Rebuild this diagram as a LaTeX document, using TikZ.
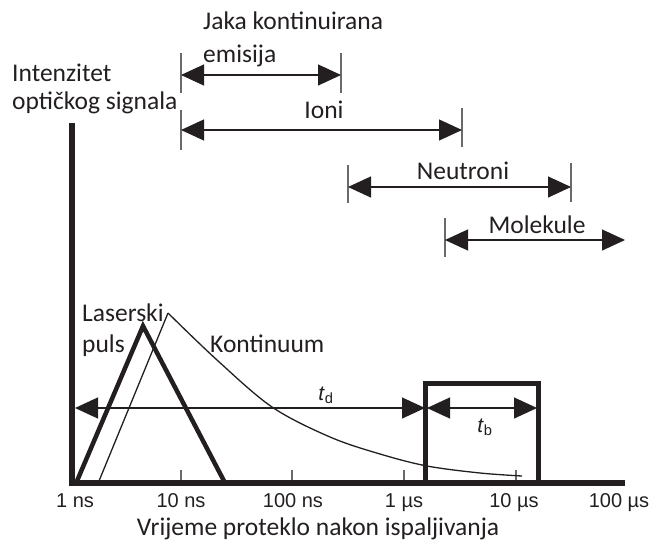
\documentclass[tikz,border=0pt]{standalone}
\usepackage{fontspec}
\setmainfont{Carlito}
\newfontfamily\arialf{Liberation Sans}
\usetikzlibrary{arrows.meta}
\definecolor{ink}{HTML}{231F20}
\definecolor{tickgray}{HTML}{6A6A6A}
\begin{document}
\begin{tikzpicture}[x=1pt,y=-1pt,
  lbl/.style={font=\fontsize{25.5}{30}\selectfont, inner sep=0pt, text=ink},
  tlbl/.style={font=\arialf\fontsize{20}{24}\selectfont, inner sep=0pt, anchor=base, text=ink},
  tvar/.style={font=\arialf\fontsize{21}{24}\selectfont, inner sep=0pt, anchor=base, text=ink},
  tip/.tip={Triangle[length=23pt,width=21pt]},
  rng/.style={draw=ink, line width=1.2pt, tip-tip},
  endtick/.style={draw=tickgray, line width=1.2pt},
  axis/.style={draw=ink, line width=6.5pt, line join=miter},
  thin/.style={draw=ink, line width=1.3pt},
]
\useasboundingbox (0,0) rectangle (655,540);

% axes
\coordinate (ytop) at (72,123);
\coordinate (orig) at (72,483);
\coordinate (xend) at (625,483);
\draw[axis] (ytop) -- (orig) -- (xend);

% x ticks
\foreach \x in {181,292,404,516} \draw[draw=tickgray, line width=1.2pt] (\x,470) -- (\x,480);

% tick labels
\node[tlbl] (t1) at (75,507) {1 ns};
\node[tlbl] (t2) at (181,507) {10 ns};
\node[tlbl] (t3) at (293,507) {100 ns};
\node[tlbl] (t4) at (404,507) {1 µs};
\node[tlbl] (t5) at (514,507) {10 µs};
\node[tlbl] (t6) at (619,507) {100 µs};
\node[lbl, anchor=base] (xt) at (318,535) {Vrijeme proteklo nakon ispaljivanja};

% y label
\node[lbl, anchor=base west] (int1) at (12,82) {Intenzitet};
\node[lbl, anchor=base west] (int2) at (12,110) {optičkog signala};

% laser pulse
\draw[draw=ink, line width=4.5pt, line join=miter] (77,481) -- (143,326) -- (224,481);
% continuum
\draw[thin, line join=miter] (99,481) -- (168,313);
\draw[thin] plot[smooth, tension=0.55] coordinates {(168,313) (217,360) (272,407) (330,437) (380,454) (427,466) (480,473) (522,476)};
\node[lbl, anchor=base west] (las1) at (82,321) {Laserski};
\node[lbl, anchor=base west] (las2) at (82,352) {puls};
\node[lbl, anchor=base west] (kont) at (210,352) {Kontinuum};

% gate box
\draw[draw=ink, line width=5pt, line join=miter] (425.5,483) -- (425.5,383) -- (538,383) -- (538,483);

% t_d and t_b
\coordinate (tdL) at (75,408);
\coordinate (tdR) at (425,408);
\coordinate (tbL) at (427,408);
\coordinate (tbR) at (537,408);
\draw[rng] (tdL) -- (tdR);
\draw[rng] (tbL) -- (tbR);
\node[tvar] (td) at (326,400) {\textit{t}\textsubscript{d}};
\node[tvar] (tb) at (485,432) {\textit{t}\textsubscript{b}};

% Jaka kontinuirana emisija
\coordinate (jL) at (181,75);
\coordinate (jR) at (341,75);
\draw[endtick] ([yshift=22pt]jL) -- ([yshift=-18pt]jL);
\draw[endtick] ([yshift=22pt]jR) -- ([yshift=-18pt]jR);
\draw[rng] (jL) -- (jR);
\node[lbl, anchor=base west] (jaka1) at (203,30) {Jaka kontinuirana};
\node[lbl, anchor=base west] (jaka2) at (203,63) {emisija};

% Ioni
\coordinate (iL) at (181,130);
\coordinate (iR) at (462,130);
\draw[endtick] ([yshift=20pt]iL) -- ([yshift=-20pt]iL);
\draw[endtick] ([yshift=22pt]iR) -- ([yshift=-17pt]iR);
\draw[rng] (iL) -- (iR);
\node[lbl, anchor=base] (ioni) at (324,119) {Ioni};

% Neutroni
\coordinate (nL) at (348,187);
\coordinate (nR) at (571,187);
\draw[endtick] ([yshift=22pt]nL) -- ([yshift=-16pt]nL);
\draw[endtick] ([yshift=24pt]nR) -- ([yshift=-15pt]nR);
\draw[rng] (nL) -- (nR);
\node[lbl, anchor=base] (neu) at (463,179) {Neutroni};

% Molekule
\coordinate (mL) at (445,240);
\coordinate (mR) at (625,240);
\draw[endtick] ([yshift=22pt]mL) -- ([yshift=-17pt]mL);
\draw[rng] (mL) -- (mR);
\node[lbl, anchor=base] (mol) at (537,233) {Molekule};
\end{tikzpicture}
\end{document}
